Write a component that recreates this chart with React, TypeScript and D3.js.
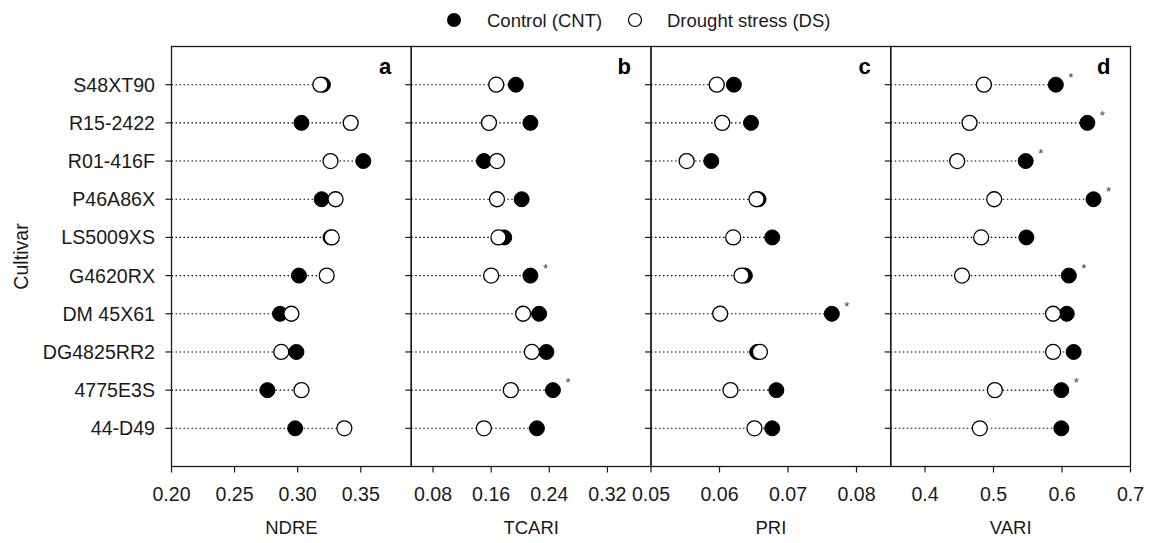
import React from "react";
import * as d3 from "d3";

const cultivars = ["S48XT90", "R15-2422", "R01-416F", "P46A86X", "LS5009XS", "G4620RX", "DM 45X61", "DG4825RR2", "4775E3S", "44-D49"];

const ndreCNT = [0.320, 0.303, 0.352, 0.319, 0.326, 0.301, 0.286, 0.299, 0.276, 0.298];
const ndreDS = [0.318, 0.342, 0.326, 0.330, 0.327, 0.323, 0.295, 0.287, 0.303, 0.337];
const ndreSig = [false, false, false, false, false, false, false, false, false, false];

const tcariCNT = [0.194, 0.214, 0.150, 0.202, 0.178, 0.214, 0.226, 0.236, 0.245, 0.223];
const tcariDS = [0.167, 0.157, 0.168, 0.168, 0.170, 0.160, 0.204, 0.216, 0.187, 0.150];
const tcariSig = [false, false, false, false, false, true, false, false, true, false];

const priCNT = [0.0621, 0.0646, 0.0588, 0.0657, 0.0677, 0.0637, 0.0764, 0.0655, 0.0683, 0.0677];
const priDS = [0.0596, 0.0604, 0.0552, 0.0654, 0.0620, 0.0632, 0.0601, 0.0659, 0.0616, 0.0651];
const priSig = [false, false, false, false, false, false, true, false, false, false];

const variCNT = [0.591, 0.637, 0.547, 0.646, 0.548, 0.610, 0.607, 0.617, 0.599, 0.599];
const variDS = [0.486, 0.465, 0.447, 0.501, 0.482, 0.454, 0.587, 0.587, 0.502, 0.480];
const variSig = [true, true, true, true, false, true, false, false, true, false];

const panelNames = ["NDRE", "TCARI", "PRI", "VARI"];
const panelLetters = ["a", "b", "c", "d"];
const panelDomains: [number, number][] = [[0.2, 0.39], [0.05, 0.38], [0.05, 0.085], [0.35, 0.7]];
const panelTicks = [[0.2, 0.25, 0.3, 0.35], [0.08, 0.16, 0.24, 0.32], [0.05, 0.06, 0.07, 0.08], [0.4, 0.5, 0.6, 0.7]];
const panelFormats = [".2f", ".2f", ".2f", ".1f"];
const panelCNT = [ndreCNT, tcariCNT, priCNT, variCNT];
const panelDS = [ndreDS, tcariDS, priDS, variDS];
const panelSig = [ndreSig, tcariSig, priSig, variSig];

const legendLabels = ["Control (CNT)", "Drought stress (DS)"];

const FONT = "'Liberation Sans', Arial, Helvetica, sans-serif";
const W = 1160;
const H = 543;
const plotLeft = 171.5;
const plotRight = 1130.5;
const plotTop = 46.5;
const plotBottom = 466.5;
const R = 7.5;
const INK = "#1a1a1a";
const TICK_FS = 19.6;

export default function App() {
  const panelW = (plotRight - plotLeft) / 4;
  const y = d3.scalePoint<string>().domain(cultivars).range([plotTop, plotBottom]).padding(1);

  return (
    <svg width={W} height={H} style={{ position: "absolute", left: 0, top: 0, background: "#fff" }} fontFamily={FONT}>
      {/* legend */}
      <g>
        <circle cx={454} cy={20} r={7} fill="#000" />
        <text x={487} y={26.5} fontSize={18.5} fill={INK}>{legendLabels[0]}</text>
        <circle cx={635} cy={20} r={6.5} fill="#fff" stroke="#000" strokeWidth={1.2} />
        <text x={667} y={26.5} fontSize={18.5} fill={INK}>{legendLabels[1]}</text>
      </g>

      {/* y labels */}
      {cultivars.map((c) => (
        <g key={c}>
          <text x={155} y={y(c)!} dy="0.36em" textAnchor="end" fontSize={TICK_FS} fill={INK}>{c}</text>
        </g>
      ))}
      <text transform={`translate(27.5,${(plotTop + plotBottom) / 2}) rotate(-90)`} textAnchor="middle" fontSize={TICK_FS} fill={INK}>Cultivar</text>

      {panelNames.map((name, p) => {
        const x0 = plotLeft + p * panelW;
        const x1 = x0 + panelW;
        const x = d3.scaleLinear().domain(panelDomains[p]).range([x0, x1]);
        const fmt = d3.format(panelFormats[p]);
        const cnt = panelCNT[p];
        const ds = panelDS[p];
        const sig = panelSig[p];
        return (
          <g key={name}>
            {/* y ticks on left of each panel */}
            {cultivars.map((c) => (
              <line key={c} x1={x0 - 6} x2={x0} y1={y(c)!} y2={y(c)!} stroke={INK} strokeWidth={1.2} />
            ))}
            {/* dotted lines */}
            {cultivars.map((c, i) => (
              <line key={"l" + c} x1={x0} x2={x(Math.max(cnt[i], ds[i]))} y1={y(c)!} y2={y(c)!}
                stroke="#000" strokeWidth={1.1} strokeDasharray="1.5,2.5" />
            ))}
            {/* control (filled) */}
            {cultivars.map((c, i) => (
              <circle key={"c" + c} cx={x(cnt[i])} cy={y(c)!} r={R} fill="#000" stroke="#000" strokeWidth={1} />
            ))}
            {/* drought (open) */}
            {cultivars.map((c, i) => (
              <circle key={"d" + c} cx={x(ds[i])} cy={y(c)!} r={R} fill="#fff" stroke="#000" strokeWidth={1.3} />
            ))}
            {/* significance stars */}
            {cultivars.map((c, i) =>
              sig[i] ? (
                <text key={"s" + c} x={x(Math.max(cnt[i], ds[i])) + R + 5} y={y(c)! - 3} fontSize={13} fill="#444">*</text>
              ) : null
            )}
            {/* frame */}
            <rect x={x0} y={plotTop} width={panelW} height={plotBottom - plotTop} fill="none" stroke={INK} strokeWidth={1.3} />
            {/* panel letter */}
            <text x={x1 - 20} y={plotTop + 27} textAnchor="end" fontSize={22} fontWeight="bold" fill="#000">{panelLetters[p]}</text>
            {/* x ticks */}
            {panelTicks[p].map((t) => (
              <g key={"t" + t}>
                <line x1={x(t)} x2={x(t)} y1={plotBottom} y2={plotBottom + 6} stroke={INK} strokeWidth={1.2} />
                <text x={x(t)} y={501} textAnchor="middle" fontSize={TICK_FS} fill={INK}>{fmt(t)}</text>
              </g>
            ))}
            <text x={(x0 + x1) / 2} y={534} textAnchor="middle" fontSize={18.5} fill={INK}>{name}</text>
          </g>
        );
      })}
    </svg>
  );
}
